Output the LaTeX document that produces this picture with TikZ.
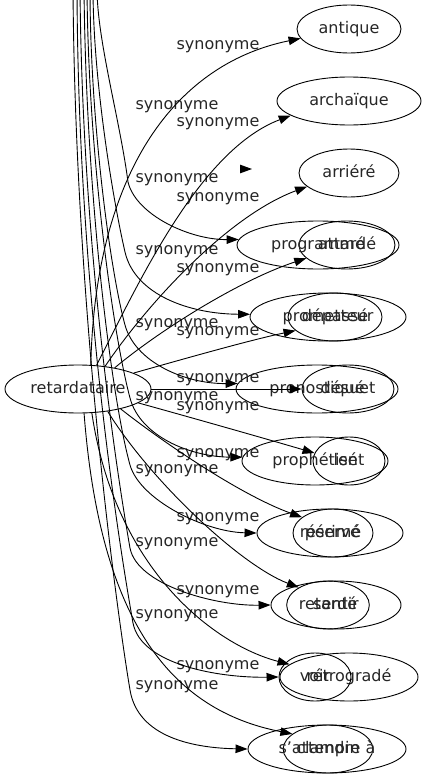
\documentclass[tikz,border=0pt]{standalone}
\usepackage{fontspec}
\setmainfont{DejaVu Sans}
\usetikzlibrary{shapes.geometric, arrows.meta}

\begin{document}
\begin{tikzpicture}[x=1pt,y=1pt,line width=0.9pt,
  word/.style={draw, ellipse, inner sep=0pt, minimum height=48pt, text height=11.5pt, text depth=3.5pt,
    text=black!85, font=\fontsize{16}{19}\selectfont},
  lbl/.style={inner sep=0pt, text height=11.5pt, text depth=3.5pt, text=black!85, font=\fontsize{16}{19}\selectfont},
  syn/.style={-{Triangle[length=12pt,width=8.5pt]}}]
\clip (0,0) rectangle (427,-779);
% Root of the first graph
\node[word, minimum width=146pt] (retardataire) at (78,-389) {retardataire};
% Synonyms of retardataire
\node[word, minimum width=104pt] (antique) at (349,-29) {antique};
\node[word, minimum width=144pt] (archaique) at (349,-101) {archaïque};
\node[word, minimum width=100pt] (arriere) at (349,-173) {arriéré};
\node[word, minimum width=96pt] (attarde) at (347,-245) {attardé};
\node[word, minimum width=86pt] (depasse) at (335,-317) {dépassé};
\node[word, minimum width=92pt] (desuet) at (348,-389) {désuet};
\node[word, minimum width=72pt] (lent) at (349,-461) {lent};
\node[word, minimum width=80pt] (perime) at (333,-533) {périmé};
\node[word, minimum width=60pt] (retarde) at (328,-605) {retardé};
\node[word, minimum width=138pt] (retrograde) at (349,-677) {rétrogradé};
\node[word, minimum width=80pt] (clampin) at (328,-749) {clampin};
% Second graph, its root lies above the picture
\node[word, minimum width=162pt] (programme) at (318,-245) {programmé};
\node[word, minimum width=156pt] (prometteur) at (328,-317) {prometteur};
\node[word, minimum width=162pt] (pronostique) at (317,-389) {pronostiqué};
\node[word, minimum width=146pt] (prophetise) at (315,-461) {prophétisé};
\node[word, minimum width=146pt] (reserve) at (330,-533) {réservé};
\node[word, minimum width=130pt] (sentir) at (336,-605) {sentir};
\node[word, minimum width=72pt] (voir) at (315,-677) {voir};
\node[word, minimum width=158pt] (sattendre) at (327,-749) {s'attendre à};
\foreach \x [count=\i] in {97,93,90,87,84,80,77,73}
  \coordinate (top\i) at (\x,12);
\coordinate (ghost) at (240,-169);
\coordinate (ghosttip) at (252,-169);
% Edge labels
\foreach \y [count=\i] in {45,122,197,268,331,378,406,453,517,590,665}
  \node[lbl] (synr\i) at (218,-\y) {synonyme};
\foreach \y [count=\i] in {105,178,250,323,396,469,542,614,685}
  \node[lbl] (synl\i) at (177,-\y) {synonyme};
% Edges of retardataire
\draw[syn] (retardataire.62) .. controls (95,-180) and (170,-65) .. (antique.191);
\draw[syn] (retardataire.52) .. controls (140,-280) and (200,-150) .. (archaique.194);
\draw[syn] (retardataire.40) .. controls (150,-300) and (230,-215) .. (arriere.198);
\draw[syn] (retardataire.30) .. controls (160,-330) and (240,-280) .. (attarde.198);
\draw[syn] (retardataire.16) .. controls (180,-360) and (250,-340) .. (depasse.199);
\draw[syn] (retardataire.east) -- (desuet.west);
\draw[syn] (retardataire.-13) .. controls (200,-420) and (270,-440) .. (lent.167);
\draw[syn] (retardataire.-25) .. controls (160,-440) and (240,-495) .. (perime.153);
\draw[syn] (retardataire.-37) .. controls (150,-480) and (240,-565) .. (retarde.149);
\draw[syn] (retardataire.-60) .. controls (115,-570) and (215,-645) .. (retrograde.168);
\draw[syn] (retardataire.-76) .. controls (100,-620) and (170,-710) .. (clampin.157);
% Edges coming from above
\draw[syn] (top1) .. controls (97,-40) and (120,-120) .. (128,-182)
  .. controls (136,-215) and (190,-240) .. (programme.176);
\draw[syn] (top2) .. controls (93,-80) and (113,-200) .. (125,-252)
  .. controls (135,-295) and (190,-314) .. (prometteur.178);
\draw[syn] (top3) .. controls (90,-120) and (110,-270) .. (125,-325)
  .. controls (135,-362) and (185,-384) .. (pronostique.176);
\draw[syn] (top4) .. controls (88,-150) and (112,-330) .. (130,-398)
  .. controls (140,-436) and (190,-457) .. (prophetise.177);
\draw[syn] (top5) .. controls (86,-200) and (112,-400) .. (130,-465)
  .. controls (140,-500) and (205,-532) .. (reserve.west);
\draw[syn] (top6) .. controls (82,-250) and (118,-480) .. (130,-548)
  .. controls (137,-585) and (215,-606) .. (sentir.west);
\draw[syn] (top7) .. controls (78,-300) and (122,-560) .. (133,-623)
  .. controls (141,-665) and (220,-678) .. (voir.west);
\draw[syn] (top8) .. controls (75,-300) and (115,-600) .. (130,-690)
  .. controls (138,-738) and (195,-748) .. (sattendre.west);
\draw[syn] (ghost) -- (ghosttip);
\end{tikzpicture}
\end{document}
